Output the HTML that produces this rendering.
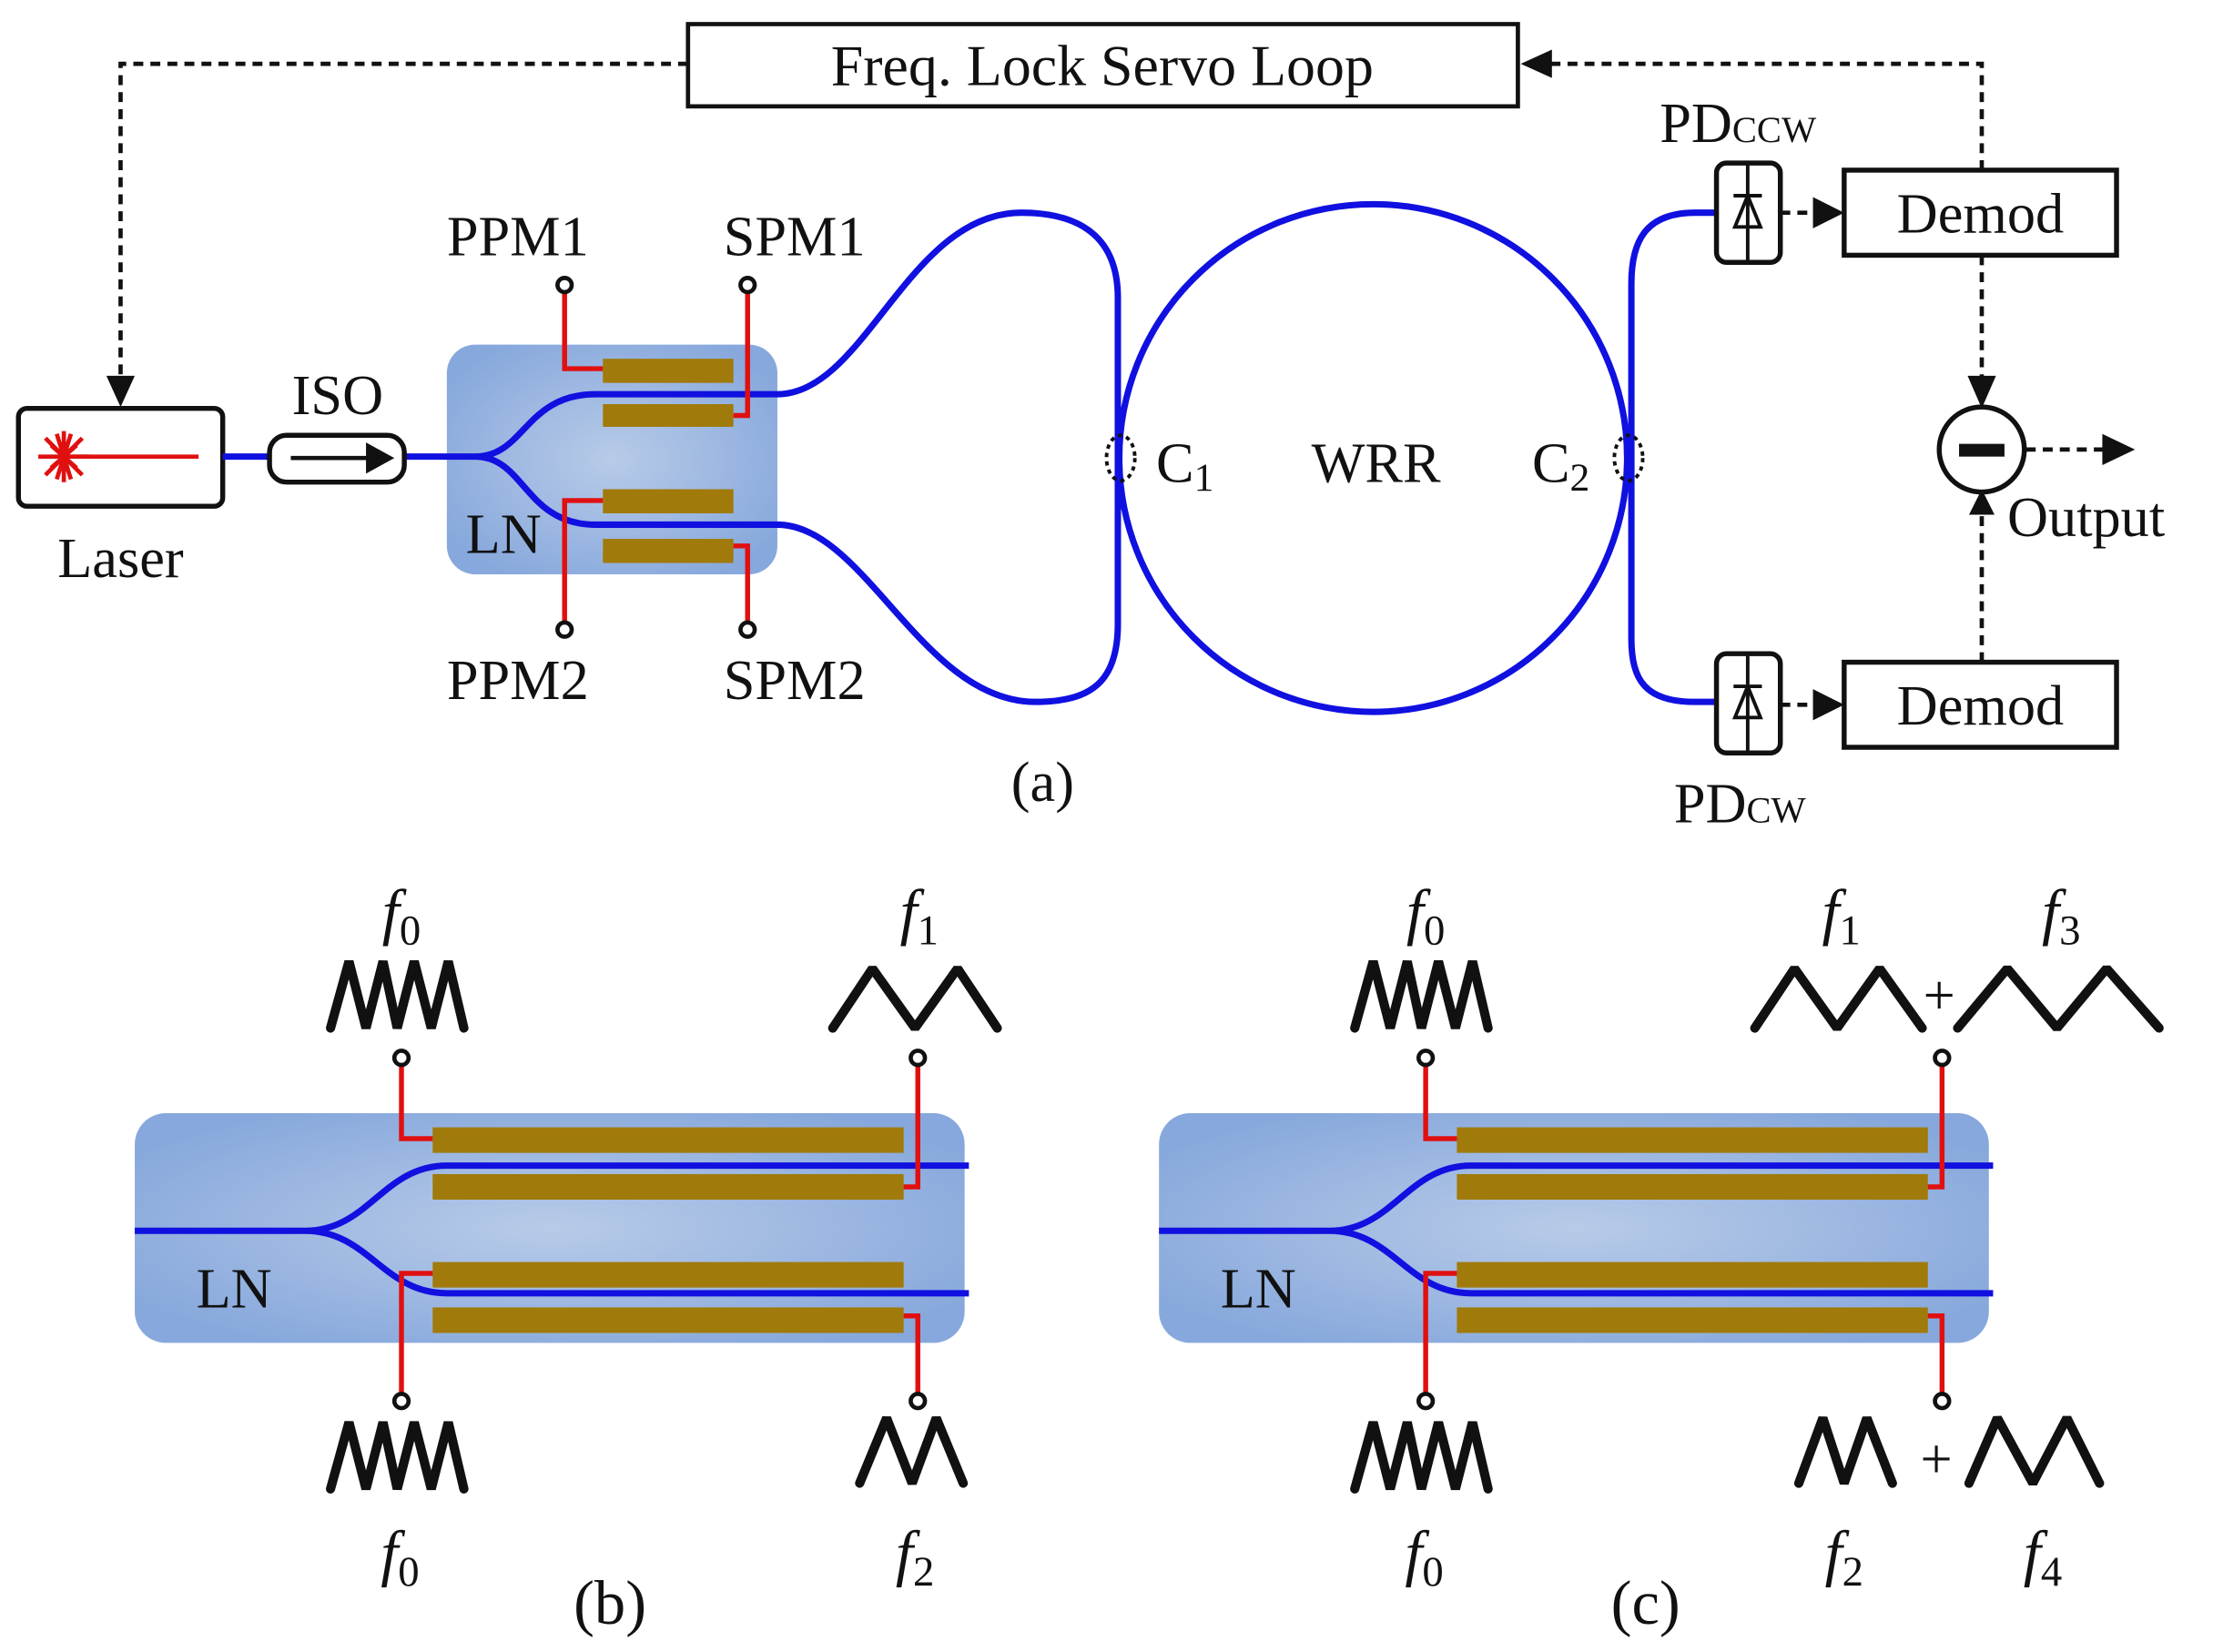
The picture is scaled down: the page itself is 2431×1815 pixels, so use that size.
<!DOCTYPE html>
<html><head><meta charset="utf-8"><style>
html,body{margin:0;padding:0;background:#fff}
svg{display:block}
text{font-family:"Liberation Serif",serif;fill:#111}
</style></head><body>
<svg width="2431" height="1815" viewBox="0 0 1560 1165" preserveAspectRatio="none" xmlns="http://www.w3.org/2000/svg">
<defs>
<radialGradient id="g" cx="0.5" cy="0.5" r="0.6">
<stop offset="0" stop-color="#b8cbe8"/><stop offset="1" stop-color="#87a8dc"/>
</radialGradient>
</defs>
<g stroke="#111" stroke-width="3" fill="none">
<rect x="485" y="17" width="585" height="58" fill="#fff"/>
<g stroke-dasharray="7,5">
<path d="M485 45 H85 V270"/>
<path d="M1397 120 V45 H1090"/>
<path d="M1397 180 V290"/>
<path d="M1397 467 V350"/>
<path d="M1428 317 H1485"/>
<path d="M1255 150 H1285"/>
<path d="M1255 497 H1285"/>
</g>
</g>
<g fill="#111">
<polygon points="75,265 95,265 85,287"/>
<polygon points="1072,45 1094,35 1094,55"/>
<polygon points="1387,265 1407,265 1397,288"/>
<polygon points="1388,363 1406,363 1397,345"/>
<polygon points="1505,317 1482,306 1482,328"/>
<polygon points="1300,150 1278,139 1278,161"/>
<polygon points="1300,497 1278,486 1278,508"/>
</g>
<text x="777" y="60" font-size="41" text-anchor="middle">Freq. Lock Servo Loop</text>

<rect x="13" y="288" width="144" height="69" rx="6" fill="#fff" stroke="#111" stroke-width="3.5"/>
<g stroke="#e01010" stroke-width="3">
<path d="M45 322 H140"/>
<path d="M27 322 H63 M45 304 V340 M32 309 L58 335 M32 335 L58 309 M36 314 L54 330 M36 330 L54 314 M40 306 L50 338 M40 338 L50 306"/>
</g>
<text x="85" y="407" font-size="40" text-anchor="middle">Laser</text>
<text x="238" y="292" font-size="40" text-anchor="middle">ISO</text>

<rect x="315" y="243" width="233" height="162" rx="20" fill="url(#g)"/>
<g fill="#a07a0a">
<rect x="425" y="253" width="92" height="17"/><rect x="425" y="285" width="92" height="16"/>
<rect x="425" y="345" width="92" height="17"/><rect x="425" y="380" width="92" height="17"/>
</g>
<text x="355" y="390" font-size="40" text-anchor="middle">LN</text>
<g stroke="#1010e0" stroke-width="4.5" fill="none">
<path d="M157 322 H190 M285 322 H335 C370 322 370 278 420 278 H548 C610 278 640 150 720 150 C770 150 788 175 788 210 V440 C788 480 770 495 730 495 C650 495 610 370 548 370 H420 C370 370 370 322 335 322"/>
<circle cx="968" cy="323" r="179"/>
<path d="M1210 150 H1195 C1160 150 1150 170 1150 200 V450 C1150 480 1160 495 1195 495 H1210"/>
</g>
<rect x="190" y="307" width="95" height="33" rx="12" fill="#fff" stroke="#111" stroke-width="3.5"/>
<path d="M205 323 H262" stroke="#111" stroke-width="3"/>
<polygon points="278,323 258,312 258,334" fill="#111"/>
<g stroke="#e01010" stroke-width="3.5" fill="none">
<path d="M398 203 V260 H425"/><path d="M527 203 V293 H517"/>
<path d="M398 442 V353 H425"/><path d="M527 442 V385 H517"/>
</g>
<g fill="#fff" stroke="#111" stroke-width="3">
<circle cx="398" cy="201" r="5"/><circle cx="527" cy="201" r="5"/>
<circle cx="398" cy="444" r="5"/><circle cx="527" cy="444" r="5"/>
</g>
<g font-size="40" text-anchor="middle">
<text x="365" y="180">PPM1</text><text x="560" y="180">SPM1</text>
<text x="365" y="493">PPM2</text><text x="560" y="493">SPM2</text>
<text x="970" y="340">WRR</text>
<text x="735" y="565">(a)</text>
</g>
<text x="815" y="340" font-size="40">C<tspan font-size="28" dy="6">1</tspan></text>
<text x="1080" y="340" font-size="40">C<tspan font-size="28" dy="6">2</tspan></text>
<g fill="none" stroke="#111" stroke-width="2.5" stroke-dasharray="3,3">
<ellipse cx="790" cy="323" rx="10" ry="16"/><ellipse cx="1148" cy="323" rx="10" ry="16"/>
</g>

<g fill="#fff" stroke="#111" stroke-width="3.5">
<rect x="1210" y="115" width="45" height="70" rx="7"/>
<rect x="1210" y="461" width="45" height="70" rx="7"/>
</g>
<g fill="none" stroke="#111" stroke-width="2.5">
<path d="M1232 115 V185 M1222 138 H1242 M1223 160 L1232 138 L1241 160 Z"/>
<path d="M1232 461 V531 M1222 484 H1242 M1223 506 L1232 484 L1241 506 Z"/>
</g>
<text x="1170" y="100" font-size="40">PD<tspan font-size="26">CCW</tspan></text>
<text x="1180" y="580" font-size="40">PD<tspan font-size="26">CW</tspan></text>
<g fill="#fff" stroke="#111" stroke-width="3.5">
<rect x="1300" y="120" width="192" height="60"/>
<rect x="1300" y="467" width="192" height="60"/>
<circle cx="1397" cy="317" r="30"/>
</g>
<rect x="1381" y="313" width="32" height="9" fill="#111"/>
<text x="1396" y="164" font-size="40" text-anchor="middle">Demod</text>
<text x="1396" y="511" font-size="40" text-anchor="middle">Demod</text>
<text x="1415" y="378" font-size="40">Output</text>

<g id="panel">
<rect x="95" y="785" width="585" height="162" rx="22" fill="url(#g)"/>
<g fill="#a07a0a">
<rect x="305" y="795" width="332" height="18"/><rect x="305" y="828" width="332" height="18"/>
<rect x="305" y="890" width="332" height="18"/><rect x="305" y="922" width="332" height="18"/>
</g>
<g stroke="#1010e0" stroke-width="4.5" fill="none">
<path d="M95 868 H215 C260 868 270 822 315 822 H683 M215 868 C260 868 270 912 315 912 H683"/>
</g>
<g stroke="#e01010" stroke-width="3.5" fill="none">
<path d="M283 748 V803 H305"/><path d="M647 748 V837 H637"/>
<path d="M283 985 V898 H305"/><path d="M647 985 V928 H637"/>
</g>
<g fill="#fff" stroke="#111" stroke-width="3">
<circle cx="283" cy="746" r="5"/><circle cx="647" cy="746" r="5"/>
<circle cx="283" cy="988" r="5"/><circle cx="647" cy="988" r="5"/>
</g>
<text x="165" y="922" font-size="40" text-anchor="middle">LN</text>
<g stroke="#111" stroke-width="6.5" fill="none" stroke-linejoin="bevel" stroke-linecap="round">
<path d="M233 725 L246 678 L258 725 L270 678 L280 725 L292 678 L304 725 L316 678 L327 725"/>
<path d="M233 1050 L246 1003 L258 1050 L270 1003 L280 1050 L292 1003 L304 1050 L316 1003 L327 1050"/>
</g>
<text x="283" y="658" font-size="44" font-style="italic" text-anchor="middle">f<tspan font-size="30" font-style="normal" dy="8">0</tspan></text>
<text x="282" y="1110" font-size="44" font-style="italic" text-anchor="middle">f<tspan font-size="30" font-style="normal" dy="8">0</tspan></text>
</g>
<use href="#panel" x="722"/>

<g stroke="#111" stroke-width="6.5" fill="none" stroke-linejoin="bevel" stroke-linecap="round">
<path d="M587 725 L615 683 L645 725 L675 683 L703 725"/>
<path d="M606 1046 L625 1000 L643 1046 L660 1000 L679 1046"/>
<path d="M1237 725 L1265 683 L1295 725 L1325 683 L1355 725"/>
<path d="M1380 725 L1415 683 L1450 725 L1485 683 L1522 725"/>
<path d="M1268 1046 L1285 1000 L1300 1046 L1316 1000 L1334 1046"/>
<path d="M1388 1046 L1408 1000 L1433 1046 L1457 1000 L1480 1046"/>
</g>
<g font-size="44" text-anchor="middle">
<text x="648" y="658" font-style="italic">f<tspan font-size="30" font-style="normal" dy="8">1</tspan></text>
<text x="645" y="1110" font-style="italic">f<tspan font-size="30" font-style="normal" dy="8">2</tspan></text>
<text x="1298" y="658" font-style="italic">f<tspan font-size="30" font-style="normal" dy="8">1</tspan></text>
<text x="1453" y="658" font-style="italic">f<tspan font-size="30" font-style="normal" dy="8">3</tspan></text>
<text x="1300" y="1110" font-style="italic">f<tspan font-size="30" font-style="normal" dy="8">2</tspan></text>
<text x="1440" y="1110" font-style="italic">f<tspan font-size="30" font-style="normal" dy="8">4</tspan></text>
<text x="1367" y="715" font-size="40">+</text>
<text x="1365" y="1042" font-size="40">+</text>
<text x="430" y="1145">(b)</text>
<text x="1160" y="1145">(c)</text>
</g>
</svg>
</body></html>
